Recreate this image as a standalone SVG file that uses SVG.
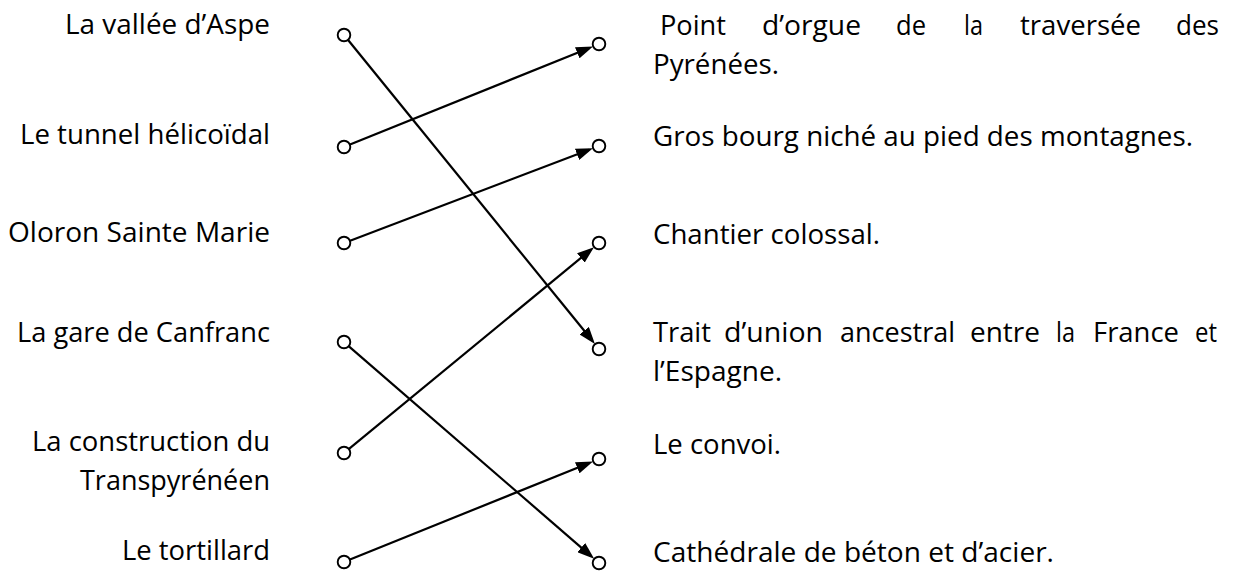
<svg xmlns="http://www.w3.org/2000/svg" width="1239" height="572" viewBox="0 0 1239 572">
<style>
  text { font-family: "Open Sans", "Noto Sans", "Liberation Sans", sans-serif; font-size: 27.5px; font-weight: 500; fill: #000; }
  .dot { fill: #fff; stroke: #000; stroke-width: 1.9; }
  .link { stroke: #000; stroke-width: 2.2; fill: none; marker-end: url(#arrow); }
</style>
<defs>
  <marker id="arrow" markerUnits="userSpaceOnUse" viewBox="0 0 17 12" markerWidth="17" markerHeight="12" refX="13" refY="6" orient="auto">
    <path d="M0,0 L17,6 L0,12 z" fill="#000"/>
  </marker>
</defs>
<rect width="1239" height="572" fill="#fff"/>

<g id="left-1"><text x="65" y="34" textLength="205" lengthAdjust="spacingAndGlyphs">La vallée d’Aspe</text><circle class="dot" cx="344" cy="35" r="6.3"/></g>
<g id="left-2"><text x="20" y="144" textLength="250" lengthAdjust="spacingAndGlyphs">Le tunnel hélicoïdal</text><circle class="dot" cx="344" cy="147" r="6.3"/></g>
<g id="left-3"><text x="8" y="242" textLength="262" lengthAdjust="spacingAndGlyphs">Oloron Sainte Marie</text><circle class="dot" cx="344" cy="243" r="6.3"/></g>
<g id="left-4"><text x="17" y="342" textLength="253" lengthAdjust="spacingAndGlyphs">La gare de Canfranc</text><circle class="dot" cx="344" cy="342" r="6.3"/></g>
<g id="left-5"><text x="32" y="451" textLength="238" lengthAdjust="spacingAndGlyphs">La construction du</text><text x="80" y="490" textLength="190" lengthAdjust="spacingAndGlyphs">Transpyrénéen</text><circle class="dot" cx="344" cy="453" r="6.3"/></g>
<g id="left-6"><text x="122" y="560" textLength="148" lengthAdjust="spacingAndGlyphs">Le tortillard</text><circle class="dot" cx="344" cy="562" r="6.3"/></g>

<g id="right-1"><circle class="dot" cx="599" cy="44" r="6.3"/>
  <text y="35"><tspan x="660" textLength="66" lengthAdjust="spacingAndGlyphs">Point</tspan><tspan x="762" textLength="99" lengthAdjust="spacingAndGlyphs">d’orgue</tspan><tspan x="896" textLength="30" lengthAdjust="spacingAndGlyphs">de</tspan><tspan x="964" textLength="19" lengthAdjust="spacingAndGlyphs">la</tspan><tspan x="1020" textLength="121" lengthAdjust="spacingAndGlyphs">traversée</tspan><tspan x="1176" textLength="43" lengthAdjust="spacingAndGlyphs">des</tspan></text>
  <text x="653" y="74" textLength="126" lengthAdjust="spacingAndGlyphs">Pyrénées.</text></g>
<g id="right-2"><circle class="dot" cx="599" cy="146" r="6.3"/><text x="653" y="146" textLength="540" lengthAdjust="spacingAndGlyphs">Gros bourg niché au pied des montagnes.</text></g>
<g id="right-3"><circle class="dot" cx="599" cy="243" r="6.3"/><text x="653" y="244" textLength="227" lengthAdjust="spacingAndGlyphs">Chantier colossal.</text></g>
<g id="right-4"><circle class="dot" cx="599" cy="349" r="6.3"/>
  <text y="342"><tspan x="653" textLength="58" lengthAdjust="spacingAndGlyphs">Trait</tspan><tspan x="724" textLength="99" lengthAdjust="spacingAndGlyphs">d’union</tspan><tspan x="840" textLength="115" lengthAdjust="spacingAndGlyphs">ancestral</tspan><tspan x="970" textLength="70" lengthAdjust="spacingAndGlyphs">entre</tspan><tspan x="1056" textLength="19" lengthAdjust="spacingAndGlyphs">la</tspan><tspan x="1093" textLength="86" lengthAdjust="spacingAndGlyphs">France</tspan><tspan x="1195" textLength="22" lengthAdjust="spacingAndGlyphs">et</tspan></text>
  <text x="653" y="381" textLength="129" lengthAdjust="spacingAndGlyphs">l’Espagne.</text></g>
<g id="right-5"><circle class="dot" cx="599" cy="459" r="6.3"/><text x="653" y="454" textLength="128" lengthAdjust="spacingAndGlyphs">Le convoi.</text></g>
<g id="right-6"><circle class="dot" cx="599" cy="563" r="6.3"/><text x="653" y="562" textLength="401" lengthAdjust="spacingAndGlyphs">Cathédrale de béton et d’acier.</text></g>

<g id="connectors">
  <line class="link" x1="348.1" y1="40.0" x2="592.4" y2="340.8"/>
  <line class="link" x1="350.0" y1="144.6" x2="589.3" y2="47.9"/>
  <line class="link" x1="350.1" y1="240.7" x2="589.2" y2="149.7"/>
  <line class="link" x1="348.9" y1="346.3" x2="591.1" y2="556.1"/>
  <line class="link" x1="349.0" y1="448.9" x2="590.9" y2="249.7"/>
  <line class="link" x1="350.0" y1="559.6" x2="589.3" y2="462.9"/>
</g>
</svg>
